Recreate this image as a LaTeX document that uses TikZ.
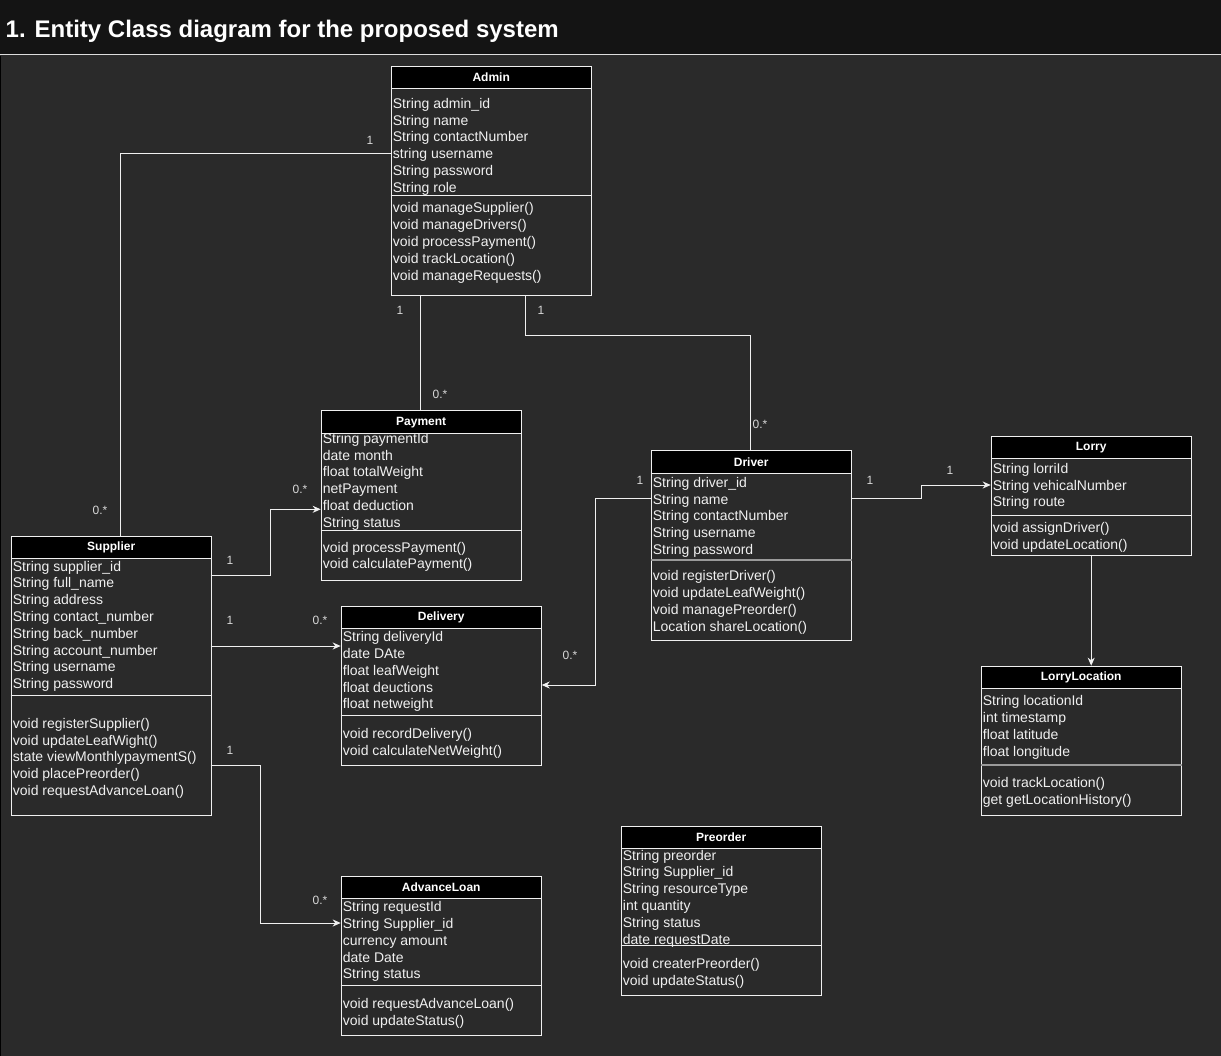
\documentclass[tikz,border=0pt]{standalone}
\usepackage{fontspec}
\setmainfont{Liberation Sans}
\usetikzlibrary{arrows.meta,calc}
\definecolor{bgbody}{HTML}{2A2A2A}
\definecolor{bghead}{HTML}{141414}
\definecolor{fg}{HTML}{F0F0F0}
\definecolor{lbl}{HTML}{D8D8D8}
\definecolor{gdiv}{HTML}{9A9A9A}
\definecolor{sepline}{HTML}{DDDDDD}

\tikzset{
 classbox/.style={draw=fg, line width=1pt, minimum width=200pt, inner sep=0pt},
 classhead/.style={draw=fg, fill=black, line width=1pt, minimum width=200pt, inner sep=0pt, text=white, font=\bfseries\fontsize{12}{14}\selectfont},
 attr/.style={anchor=base west, inner sep=0pt, text=fg, font=\fontsize{14}{16.8}\selectfont},
 divline/.style={draw=fg, line width=1pt},
 graydiv/.style={draw=gdiv, line width=2pt},
 conn/.style={draw=fg, line width=1pt},
 arr/.style={conn, -{Stealth[length=8pt,width=7pt,inset=2.5pt]}},
 mult/.style={text=lbl, font=\fontsize{12}{14}\selectfont, inner sep=0pt},
}

% name, x, top, bottom
\newcommand\ucbox[4]{\node[classbox, minimum height={#4-#3}, anchor=north west] (#1) at (#2,#3) {};}
% name, x, top, header bottom, title
\newcommand\uchead[5]{\node[classhead, minimum height={#4-#3}, anchor=north west] (#1) at (#2,#3) {#5};}
% prefix, x, first centre y, list
\newcommand\uclines[4]{\foreach \t [count=\i from 0] in {#4} {\node[attr] (#1-\i) at ({#2+2},{#3+5+16.8*\i}) {\t};}}
% box name, offset from top, style
\newcommand\ucdiv[3]{\draw[#3] ($(#1.north west)+(0,#2)$) -- ($(#1.north east)+(0,#2)$);}

\begin{document}
\begin{tikzpicture}[x=1pt,y=-1pt]
\useasboundingbox (0,0) rectangle (1221,1056);
\fill[bghead] (0,0) rectangle (1221,55);
\fill[bgbody] (0,55.5) rectangle (1221,1056);
\draw[sepline, line width=1pt] (0,55) -- (1221,55);
\draw[black, line width=1pt] (0.5,56) -- (0.5,1056);
\node[anchor=base west, inner sep=0pt, text=white, font=\bfseries\fontsize{24}{28}\selectfont] (title) at (5.5,37.5) {1. Entity Class diagram for the proposed system};

% Admin
\ucbox{admin}{390.7}{65.7}{295}
\uclines{admin-a}{390.7}{103.3}{String admin\_id, String name, String contactNumber, string username, String password, String role}
\ucdiv{admin}{129.6}{divline}
\uclines{admin-m}{390.7}{208}{void manageSupplier(), void manageDrivers(), void processPayment(), void trackLocation(), void manageRequests()}
\uchead{admin-h}{390.7}{65.7}{88.3}{Admin}

% Supplier
\ucbox{supplier}{10.7}{535.7}{815}
\uclines{supplier-a}{10.7}{566}{String supplier\_id, String full\_name, String address, String contact\_number, String back\_number, String account\_number, String username, String password}
\ucdiv{supplier}{159.6}{divline}
\uclines{supplier-m}{10.7}{723.3}{void registerSupplier(), void updateLeafWight(), state viewMonthlypaymentS(), void placePreorder(), void requestAdvanceLoan()}
\uchead{supplier-h}{10.7}{535.7}{558.3}{Supplier}

% Payment
\ucbox{payment}{320.7}{410.3}{580}
\uclines{payment-a}{320.7}{438.3}{String paymentId, date month, float totalWeight, netPayment, float deduction, String status}
\ucdiv{payment}{120}{divline}
\uclines{payment-m}{320.7}{547}{void processPayment(), void calculatePayment()}
\uchead{payment-h}{320.7}{410.3}{433.3}{Payment}

% Driver
\ucbox{driver}{650.7}{450.3}{640}
\uclines{driver-a}{650.7}{482.3}{String driver\_id, String name, String contactNumber, String username, String password}
\ucdiv{driver}{109.4}{graydiv}
\uclines{driver-m}{650.7}{575.7}{void registerDriver(), void updateLeafWeight(), void managePreorder(), Location shareLocation()}
\uchead{driver-h}{650.7}{450.3}{473.3}{Driver}

% Lorry
\ucbox{lorry}{990.7}{435.7}{555.3}
\uclines{lorry-a}{990.7}{468.3}{String lorriId, String vehicalNumber, String route}
\ucdiv{lorry}{80}{divline}
\uclines{lorry-m}{990.7}{527.3}{void assignDriver(), void updateLocation()}
\uchead{lorry-h}{990.7}{435.7}{458.3}{Lorry}

% LorryLocation
\ucbox{lorryloc}{980.7}{665.7}{815}
\uclines{lorryloc-a}{980.7}{700.7}{String locationId, int timestamp, float latitude, float longitude}
\ucdiv{lorryloc}{99.3}{graydiv}
\uclines{lorryloc-m}{980.7}{782.3}{void trackLocation(), get getLocationHistory()}
\uchead{lorryloc-h}{980.7}{665.7}{688.3}{LorryLocation}

% Delivery
\ucbox{delivery}{340.7}{605.7}{765}
\uclines{delivery-a}{340.7}{636.7}{String deliveryId, date DAte, float leafWeight, float deuctions, float netweight}
\ucdiv{delivery}{109.6}{divline}
\uclines{delivery-m}{340.7}{733.3}{void recordDelivery(), void calculateNetWeight()}
\uchead{delivery-h}{340.7}{605.7}{628.3}{Delivery}

% AdvanceLoan
\ucbox{advance}{340.7}{875.7}{1035}
\uclines{advance-a}{340.7}{906.7}{String requestId, String Supplier\_id, currency amount, date Date, String status}
\ucdiv{advance}{109.6}{divline}
\uclines{advance-m}{340.7}{1003.3}{void requestAdvanceLoan(), void updateStatus()}
\uchead{advance-h}{340.7}{875.7}{898.3}{AdvanceLoan}

% Preorder
\ucbox{preorder}{620.7}{825.7}{995}
\uclines{preorder-a}{620.7}{855}{String preorder, String Supplier\_id, String resourceType, int quantity, String status, date requestDate}
\ucdiv{preorder}{120}{divline}
\uclines{preorder-m}{620.7}{963.3}{void createrPreorder(), void updateStatus()}
\uchead{preorder-h}{620.7}{825.7}{848.3}{Preorder}

% Connectors
\draw[conn] ($(admin.north west)+(0,88.3)$) -| ($(supplier.north west)+(109.3,0)$);
\draw[conn] ($(admin.south west)+(29.3,0)$) -- ($(payment.north west)+(99.3,0)$);
\draw[conn] ($(admin.south west)+(134.3,0)$) -- ++(0,40) -| ($(driver.north west)+(99.3,0)$);
\draw[arr] ($(supplier.north west)+(200,39.3)$) -- ++(59.3,0) |- ($(payment.north west)+(0,99)$);
\draw[arr] ($(supplier.north west)+(200,110.3)$) -- ($(delivery.north west)+(0,40.3)$);
\draw[arr] ($(supplier.north west)+(200,229.3)$) -- ++(49.3,0) |- ($(advance.north west)+(0,47.3)$);
\draw[arr] ($(driver.north west)+(0,47.7)$) -- ++(-55,0) |- ($(delivery.north east)+(0,79.3)$);
\draw[arr] ($(driver.north east)+(0,47.7)$) -- ++(69.3,0) |- ($(lorry.north west)+(0,49.3)$);
\draw[arr] (lorry.south) -- (lorry.south |- lorryloc.north);

% Multiplicities
\node[mult] (m1) at (370,140) {1};
\node[mult] (m2) at (100,510) {0.*};
\node[mult] (m3) at (400,310) {1};
\node[mult] (m4) at (440,394) {0.*};
\node[mult] (m5) at (541,310) {1};
\node[mult] (m6) at (760,424) {0.*};
\node[mult] (m7) at (230,560) {1};
\node[mult] (m8) at (300,489) {0.*};
\node[mult] (m9) at (230,620) {1};
\node[mult] (m10) at (320,620) {0.*};
\node[mult] (m11) at (230,750) {1};
\node[mult] (m12) at (320,900) {0.*};
\node[mult] (m13) at (640,480) {1};
\node[mult] (m14) at (570,655) {0.*};
\node[mult] (m15) at (870,480) {1};
\node[mult] (m16) at (950,470) {1};
\end{tikzpicture}
\end{document}
